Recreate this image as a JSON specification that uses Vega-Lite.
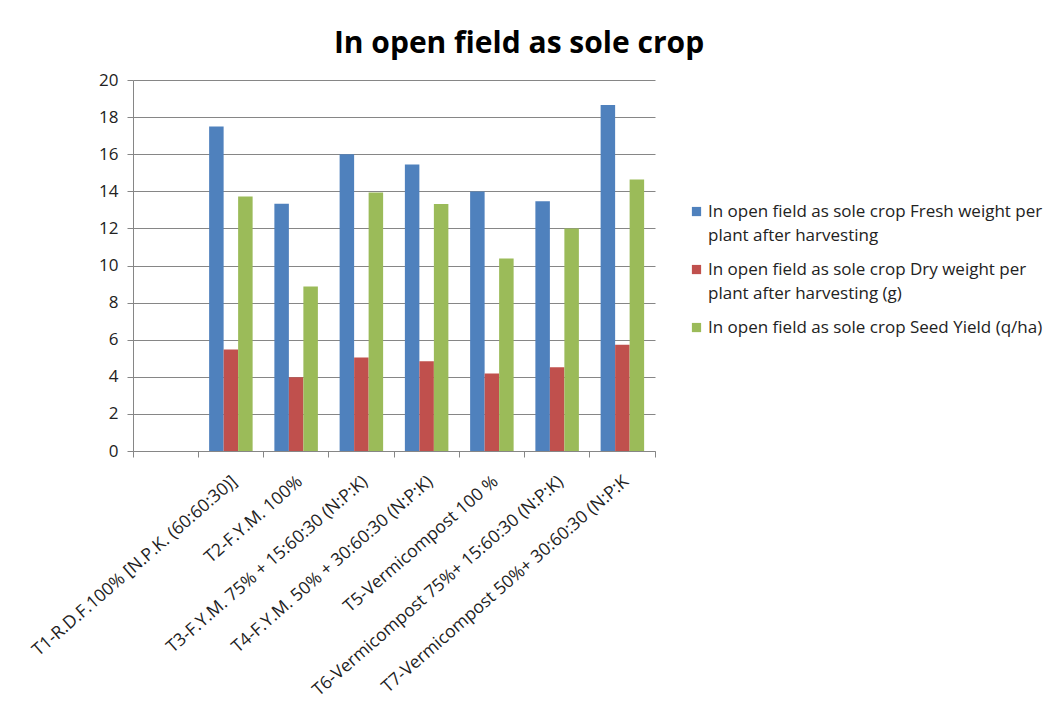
{
  "$schema": "https://vega.github.io/schema/vega-lite/v6.json",
  "autosize": "none",
  "width": 522,
  "height": 371,
  "padding": {"left": 133, "top": 80, "right": 398, "bottom": 254},
  "background": "white",
  "title": {
    "text": "In open field as sole crop",
    "font": "Open Sans",
    "fontSize": 30,
    "fontWeight": "bold",
    "color": "#000000",
    "anchor": "middle",
    "dx": 125,
    "offset": 12
  },
  "data": {
    "values": [
      {"treatment": "T1-R.D.F.100%  [N.P.K. (60:60:30)]", "series": "Fresh", "value": 17.5},
      {"treatment": "T1-R.D.F.100%  [N.P.K. (60:60:30)]", "series": "Dry", "value": 5.47},
      {"treatment": "T1-R.D.F.100%  [N.P.K. (60:60:30)]", "series": "Seed", "value": 13.72},
      {"treatment": "T2-F.Y.M. 100%", "series": "Fresh", "value": 13.33},
      {"treatment": "T2-F.Y.M. 100%", "series": "Dry", "value": 3.97},
      {"treatment": "T2-F.Y.M. 100%", "series": "Seed", "value": 8.87},
      {"treatment": "T3-F.Y.M. 75%  + 15:60:30 (N:P:K)", "series": "Fresh", "value": 16.0},
      {"treatment": "T3-F.Y.M. 75%  + 15:60:30 (N:P:K)", "series": "Dry", "value": 5.04},
      {"treatment": "T3-F.Y.M. 75%  + 15:60:30 (N:P:K)", "series": "Seed", "value": 13.93},
      {"treatment": "T4-F.Y.M. 50%  + 30:60:30 (N:P:K)", "series": "Fresh", "value": 15.45},
      {"treatment": "T4-F.Y.M. 50%  + 30:60:30 (N:P:K)", "series": "Dry", "value": 4.84},
      {"treatment": "T4-F.Y.M. 50%  + 30:60:30 (N:P:K)", "series": "Seed", "value": 13.32},
      {"treatment": "T5-Vermicompost 100 %", "series": "Fresh", "value": 13.99},
      {"treatment": "T5-Vermicompost 100 %", "series": "Dry", "value": 4.18},
      {"treatment": "T5-Vermicompost 100 %", "series": "Seed", "value": 10.38},
      {"treatment": "T6-Vermicompost 75%+ 15:60:30 (N:P:K)", "series": "Fresh", "value": 13.46},
      {"treatment": "T6-Vermicompost 75%+ 15:60:30 (N:P:K)", "series": "Dry", "value": 4.52},
      {"treatment": "T6-Vermicompost 75%+ 15:60:30 (N:P:K)", "series": "Seed", "value": 12.0},
      {"treatment": "T7-Vermicompost  50%+ 30:60:30 (N:P:K", "series": "Fresh", "value": 18.65},
      {"treatment": "T7-Vermicompost  50%+ 30:60:30 (N:P:K", "series": "Dry", "value": 5.73},
      {"treatment": "T7-Vermicompost  50%+ 30:60:30 (N:P:K", "series": "Seed", "value": 14.63}
    ]
  },
  "mark": {"type": "bar"},
  "encoding": {
    "x": {
      "field": "treatment",
      "type": "nominal",
      "scale": {
        "domain": [" ", "T1-R.D.F.100%  [N.P.K. (60:60:30)]", "T2-F.Y.M. 100%", "T3-F.Y.M. 75%  + 15:60:30 (N:P:K)", "T4-F.Y.M. 50%  + 30:60:30 (N:P:K)", "T5-Vermicompost 100 %", "T6-Vermicompost 75%+ 15:60:30 (N:P:K)", "T7-Vermicompost  50%+ 30:60:30 (N:P:K"],
        "paddingInner": 0,
        "paddingOuter": 0
      },
      "axis": {
        "title": null,
        "bandPosition": 1,
        "tickExtra": true,
        "labelAngle": -41,
        "labelAlign": "right",
        "labelBaseline": "middle",
        "labelOffset": 4,
        "labelPadding": 22,
        "labelFont": "Open Sans",
        "labelFontSize": 17.5,
        "labelColor": "#222222",
        "labelLimit": 400,
        "tickColor": "#868686",
        "tickSize": 6,
        "domainColor": "#868686",
        "grid": false
      }
    },
    "xOffset": {
      "field": "series",
      "type": "nominal",
      "scale": {"domain": ["Fresh", "Dry", "Seed"], "paddingInner": 0, "paddingOuter": 0.75}
    },
    "y": {
      "field": "value",
      "type": "quantitative",
      "scale": {"domain": [0, 20], "nice": false},
      "axis": {
        "title": null,
        "values": [0, 2, 4, 6, 8, 10, 12, 14, 16, 18, 20],
        "labelFont": "Open Sans",
        "labelFontSize": 17,
        "labelColor": "#222222",
        "labelPadding": 9,
        "tickColor": "#868686",
        "tickSize": 6,
        "domainColor": "#868686",
        "gridColor": "#868686",
        "gridOpacity": 1
      }
    },
    "color": {
      "field": "series",
      "type": "nominal",
      "scale": {"domain": ["Fresh", "Dry", "Seed"], "range": ["#4F81BD", "#C0504D", "#9BBB59"]},
      "legend": {
        "title": null,
        "orient": "none",
        "legendX": 555,
        "legendY": 115,
        "symbolType": "M-1,0.74L1,0.74L1,2.74L-1,2.74Z",
        "symbolSize": 85,
        "symbolStrokeWidth": 0,
        "symbolOffset": 0,
        "labelFont": "Open Sans",
        "labelFontSize": 17,
        "labelColor": "#222222",
        "labelLimit": 400,
        "labelBaseline": "top",
        "labelOffset": 3,
        "rowPadding": 9,
        "labelExpr": "datum.value == 'Fresh' ? ['In open field as sole crop  Fresh weight per', 'plant after harvesting'] : datum.value == 'Dry' ? ['In open field as sole crop Dry weight  per', 'plant after harvesting  (g)'] : 'In open field as sole crop Seed Yield (q/ha)'"
      }
    }
  },
  "config": {"view": {"stroke": null}, "style": {"guide-label": {"lineHeight": 24}}}
}
